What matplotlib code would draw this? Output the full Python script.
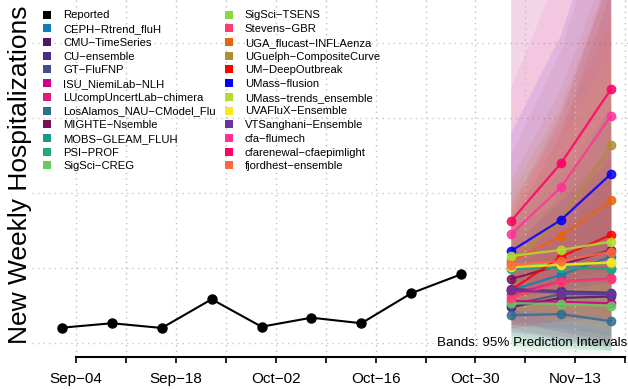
import matplotlib
matplotlib.use("Agg")
import matplotlib.pyplot as plt
import matplotlib.dates as mdates
from matplotlib.patches import Patch
import numpy as np
import pandas as pd

plt.rcParams['font.family'] = ['Liberation Sans', 'DejaVu Sans']

# ---------------- data ----------------
reported_dates = pd.date_range("2023-09-02", periods=9, freq="7D")
reported_values = [1204, 1263, 1200, 1583, 1217, 1337, 1263, 1663, 1916]

forecast_dates = pd.date_range("2023-11-04", periods=3, freq="7D")

models = ["CEPH−Rtrend_fluH", "CMU−TimeSeries", "CU−ensemble", "GT−FluFNP",
          "ISU_NiemiLab−NLH", "LUcompUncertLab−chimera", "LosAlamos_NAU−CModel_Flu",
          "MIGHTE−Nsemble", "MOBS−GLEAM_FLUH", "PSI−PROF", "SigSci−CREG",
          "SigSci−TSENS", "Stevens−GBR", "UGA_flucast−INFLAenza",
          "UGuelph−CompositeCurve", "UM−DeepOutbreak", "UMass−flusion",
          "UMass−trends_ensemble", "UVAFluX−Ensemble", "VTSanghani−Ensemble",
          "cfa−flumech", "cfarenewal−cfaepimlight", "fjordhest−ensemble"]

colors = ["#0F7FB5", "#4B176B", "#4A2C80", "#3F4F8F", "#CC0088", "#E3187D",
          "#2E6E91", "#7A0E58", "#22958A", "#25A583", "#66CC5C", "#88D64A",
          "#FF3C70", "#E8650A", "#B08E32", "#FF0000", "#0000FF", "#B3DD2E",
          "#FFE61E", "#6A3399", "#FF3399", "#FF0066", "#FF6640"]

medians = [
    [1707, 1907, 2151],   # CEPH
    [1480, 1600, 1620],   # CMU
    [1720, 1690, 1670],   # CU
    [1510, 1650, 1650],   # GT
    [1560, 1550, 1530],   # ISU
    [1650, 1820, 1860],   # LUcomp
    [1370, 1385, 1290],   # LosAlamos
    [1853, 2040, 2240],   # MIGHTE
    [2000, 2010, 1990],   # MOBS
    [1980, 2000, 1985],   # PSI
    [1530, 1520, 1495],   # SigSci-CREG
    [2050, 2050, 2065],   # SigSci-TSENS
    [1600, 1817, 1853],   # Stevens
    [2084, 2427, 2900],   # UGA
    [2100, 2630, 3640],   # UGuelph
    [1707, 2151, 2440],   # UM
    [2227, 2640, 3253],   # UMass-flusion
    [2160, 2240, 2351],   # UMass-trends
    [2010, 2040, 2076],   # UVAFluX
    [1700, 1670, 1650],   # VTSanghani
    [2449, 3076, 4027],   # cfa-flumech
    [2627, 3396, 4383],   # cfarenewal
    [2040, 2093, 2217],   # fjordhest
]

lowers = [
    [1350, 1350, 1300], [1250, 1200, 1100], [1300, 1150, 1000], [1250, 1150, 1050],
    [1200, 1050, 950], [1150, 1100, 1000], [1150, 1050, 900], [1400, 1350, 1300],
    [1000, 950, 900], [950, 920, 900], [900, 870, 850], [1200, 1050, 950],
    [1250, 1300, 1250], [1500, 1600, 1700], [1500, 1700, 2000], [1200, 1300, 1350],
    [1600, 1700, 1800], [1450, 1400, 1350], [1450, 1300, 1150], [1100, 1000, 950],
    [1500, 1700, 1900], [1600, 1800, 2000], [1450, 1400, 1350],
]

uppers = [
    [2200, 3000, 4200], [1800, 2300, 2900], [2300, 2900, 3600], [1900, 2500, 3200],
    [2000, 2700, 3500], [2700, 4000, 6000], [1700, 2100, 2500], [2600, 3800, 5700],
    [2500, 2900, 3400], [2600, 3300, 4100], [2000, 2400, 2900], [3000, 4200, 6000],
    [2000, 2700, 3300], [3200, 4400, 6200], [3500, 4900, 7000], [2800, 4100, 5900],
    [3800, 5100, 7200], [3100, 4100, 5800], [2800, 3700, 4900], [5700, 7500, 9500],
    [4400, 6000, 8500], [6000, 8500, 12000], [2900, 3900, 5300],
]

tick_dates = pd.date_range("2023-09-04", "2023-11-20", freq="7D")
tick_labels = ["Sep−04", "", "Sep−18", "", "Oct−02", "", "Oct−16", "",
               "Oct−30", "", "Nov−13", ""]
grid_y = [1000, 2000, 3000, 4000, 5000]

# ---------------- figure ----------------
W, H = 628, 389
fig = plt.figure(figsize=(W / 100, H / 100), dpi=100)
ax = fig.add_axes([32 / W, 32 / H, (W - 32) / W, 357 / H])

x_left = reported_dates[0] - pd.Timedelta(days=4.2)
x_right = forecast_dates[-1] + pd.Timedelta(days=2.4)
ax.set_xlim(x_left, x_right)
ax.set_ylim(813, 5573)

# grid
for gy in grid_y:
    ax.axhline(gy, color="#c8c8c8", lw=1.0, ls=(0, (1, 3)), zorder=0)
for td in tick_dates:
    ax.axvline(td, color="#c0c0c0", lw=1.0, ls=(0, (1, 3)), zorder=2)

# bands
for c, lo, hi in zip(colors, lowers, uppers):
    ax.fill_between(forecast_dates, lo, hi, color=c, alpha=0.09, lw=0, zorder=1)

# forecasts
for c, m in zip(colors, medians):
    ax.plot(forecast_dates, m, color=c, lw=1.6, marker="o", ms=6,
            alpha=0.85, zorder=3)

# reported
ax.plot(reported_dates, reported_values, color="black", lw=1.5, marker="o",
        ms=6.5, zorder=4)

# axes styling
for s in ["left", "top", "right"]:
    ax.spines[s].set_visible(False)
ax.spines["bottom"].set_linewidth(1.5)
ax.spines["bottom"].set_bounds(mdates.date2num(tick_dates[0]),
                               mdates.date2num(tick_dates[-1]))
ax.set_xticks(tick_dates)
ax.set_xticklabels(tick_labels)
ax.tick_params(axis="x", direction="out", length=4, width=1.2, labelsize=11, pad=7)
ax.set_yticks([])
ax.patch.set_alpha(0)

fig.text(20 / W, 1 - 175 / H, "New Weekly Hospitalizations", rotation=90,
         ha="center", va="center", fontsize=19)
fig.text(627 / W, 1 - 342.5 / H, "Bands: 95% Prediction Intervals",
         ha="right", va="center", fontsize=9.6, zorder=5)

# legend
handles = [Patch(facecolor="black", edgecolor="none")] + \
          [Patch(facecolor=c, edgecolor="none") for c in colors]
labels = ["Reported"] + models
leg = fig.legend(handles, labels, loc="upper left",
                 bbox_to_anchor=(43 / W, 1 - 10.5 / H), bbox_transform=fig.transFigure,
                 ncol=2, frameon=False, fontsize=8.1, handlelength=0.71,
                 handleheight=0.71, handletextpad=1.07, columnspacing=0.8,
                 labelspacing=0.33, borderpad=0, borderaxespad=0)

fig.savefig("out.png", dpi=100)
